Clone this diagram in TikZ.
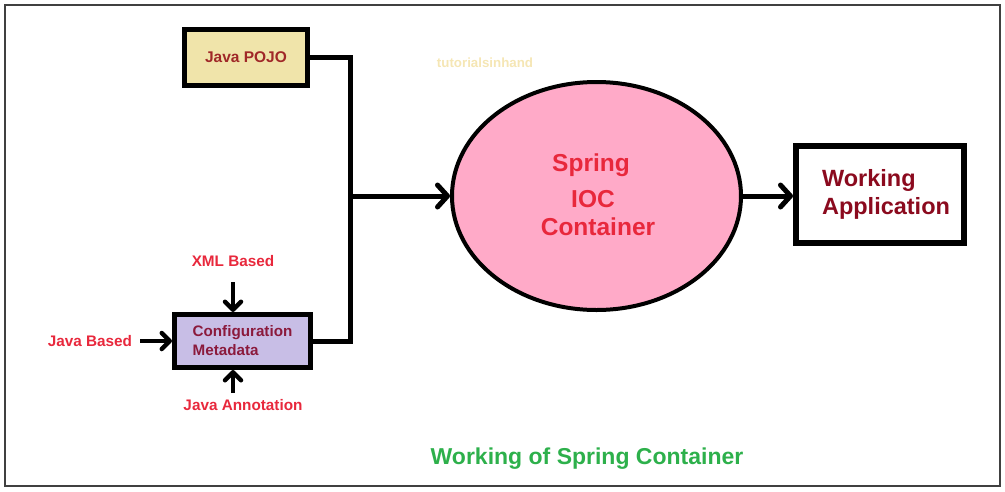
\documentclass[tikz,border=0pt]{standalone}
\usepackage{fontspec}
\setmainfont{Liberation Sans}
\usetikzlibrary{arrows.meta,shapes.geometric}
\definecolor{lblred}{RGB}{232,40,60}
\definecolor{pojotxt}{RGB}{160,40,40}
\definecolor{cfgtxt}{RGB}{139,26,60}
\definecolor{apptxt}{RGB}{139,10,30}
\definecolor{pojofill}{RGB}{240,228,170}
\definecolor{cfgfill}{RGB}{200,190,230}
\definecolor{iocfill}{RGB}{255,170,200}
\definecolor{titlegreen}{RGB}{45,176,75}
\definecolor{wmark}{RGB}{245,230,180}
\definecolor{framegray}{RGB}{64,64,64}
\tikzset{
  boxnode/.style={draw=black, rectangle, line width=5pt, inner sep=0pt, font=\bfseries},
  lbl/.style={text=lblred, font=\fontsize{15.3}{17}\selectfont\bfseries, inner sep=0pt},
  conn/.style={line width=5pt, line join=miter},
  bigarr/.style={line width=5pt, -{Straight Barb[length=10pt,width=22pt,round]}},
  smallarr/.style={line width=4.5pt, -{Straight Barb[length=8pt,width=16pt,round]}},
  ioctxt/.style={text=lblred, font=\fontsize{24.5}{27}\selectfont\bfseries, inner sep=0pt}
}
\begin{document}
\begin{tikzpicture}[x=1pt,y=-1pt]
\useasboundingbox (0,0) rectangle (1005,491);
\draw[framegray, line width=1.5pt] (5,5) rectangle (1000,486);

% watermark
\node[text=wmark, font=\fontsize{13.3}{15}\selectfont\bfseries] (wm) at (485,63) {tutorialsinhand};

% boxes
\node[boxnode, fill=pojofill, minimum width=123pt, minimum height=56pt,
      text=pojotxt, font=\fontsize{15.5}{17}\selectfont\bfseries] (pojo) at (246,57.5) {Java POJO};
\node[boxnode, fill=cfgfill, minimum width=136pt, minimum height=53pt, align=left,
      text=cfgtxt, font=\fontsize{15.2}{19}\selectfont\bfseries] (cfg) at (242.5,341) {Configuration\\Metadata};
\node[draw=black, ellipse, line width=4pt, fill=iocfill, minimum width=289pt, minimum height=228pt, inner sep=0pt] (ioc) at (596.5,196) {};
\node[boxnode, line width=6pt, minimum width=168pt, minimum height=97pt, align=left,
      text=apptxt, font=\fontsize{23.5}{28}\selectfont\bfseries] (app) at (880,194) {\hspace*{12pt}Working\\\hspace*{12pt}Application};

% ellipse text
\node[ioctxt] (t1) at (591,165) {Spring};
\node[ioctxt] (t2) at (593,199) {IOC};
\node[ioctxt] (t3) at (598,227) {Container};

% labels
\node[lbl] (xml) at (233,261) {XML Based};
\node[lbl] (jb) at (90,341) {Java Based};
\node[lbl] (ja) at (243,405) {Java Annotation};

% connectors
\coordinate (j) at (350,196);
\coordinate (xs) at (233,282);
\coordinate (jbs) at (140,341);
\coordinate (jas) at (233,393);
\draw[conn] (pojo.east) -| (j);
\draw[conn] (cfg.east) -| (j);
\draw[bigarr] (j) -- (ioc.west);
\draw[bigarr] (ioc.east) -- (ioc.east -| app.west);
\draw[smallarr] (xs) -- (xs |- cfg.north);
\draw[smallarr] (jbs) -- (jbs -| cfg.west);
\draw[smallarr] (jas) -- (jas |- cfg.south);

% title
\node[text=titlegreen, font=\fontsize{23}{26}\selectfont\bfseries] (title) at (587,459) {Working of Spring Container};
\end{tikzpicture}
\end{document}
